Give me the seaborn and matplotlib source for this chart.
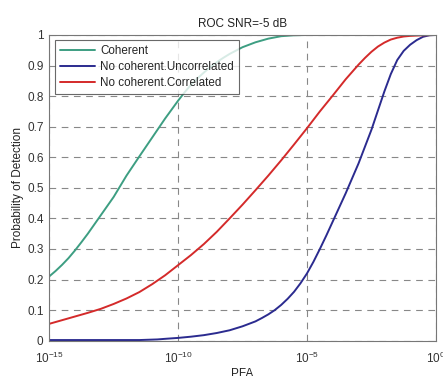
import matplotlib
matplotlib.use("Agg")
import matplotlib.pyplot as plt
import pandas as pd
import seaborn as sns

# PFA exponents (log10) and Pd
coh_exp = [-15, -14.75, -14.5, -14.25, -14, -13.75, -13.5, -13.25, -13, -12.75, -12.5, -12.25,
           -12, -11.5, -11, -10.5, -10, -9.75, -9.5, -9.25, -9, -8.75, -8.5, -8.25, -8, -7.5,
           -7, -6.5, -6, -5.5, -5, -2, 0]
coh_pd = [0.21, 0.228, 0.248, 0.27, 0.295, 0.322, 0.35, 0.38, 0.41, 0.44, 0.47, 0.505,
          0.54, 0.603, 0.665, 0.727, 0.785, 0.812, 0.837, 0.858, 0.877, 0.895, 0.911, 0.925,
          0.938, 0.96, 0.976, 0.988, 0.996, 0.999, 1.0, 1.0, 1.0]

unc_exp = [-15, -13, -11.5, -10.8, -10.5, -10, -9.5, -9, -8.5, -8, -7.5, -7, -6.75, -6.5,
           -6.25, -6, -5.75, -5.5, -5.25, -5, -4.75, -4.5, -4.25, -4, -3.5, -3, -2.5, -2,
           -1.75, -1.5, -1.25, -1, -0.75, -0.5, -0.25, 0]
unc_pd = [0.002, 0.002, 0.002, 0.004, 0.006, 0.009, 0.013, 0.018, 0.025, 0.034, 0.047, 0.063,
          0.074, 0.086, 0.1, 0.117, 0.137, 0.16, 0.188, 0.22, 0.258, 0.3, 0.344, 0.39, 0.482,
          0.58, 0.69, 0.815, 0.872, 0.918, 0.948, 0.968, 0.983, 0.994, 0.999, 1.0]

cor_exp = [-15, -14.5, -14, -13.5, -13, -12.5, -12, -11.5, -11, -10.5, -10, -9.5, -9, -8.5,
           -8, -7.5, -7, -6.5, -6, -5.5, -5, -4.5, -4, -3.5, -3, -2.75, -2.5, -2.25, -2,
           -1.75, -1.5, -1.25, -1, -0.5, 0]
cor_pd = [0.055, 0.067, 0.079, 0.091, 0.104, 0.12, 0.138, 0.159, 0.185, 0.214, 0.247, 0.28,
          0.316, 0.356, 0.40, 0.445, 0.492, 0.54, 0.59, 0.642, 0.695, 0.75, 0.802, 0.855,
          0.903, 0.925, 0.945, 0.962, 0.975, 0.985, 0.991, 0.995, 0.997, 0.999, 1.0]

labels = ["Coherent", "No coherent.Uncorrelated", "No coherent.Correlated"]
colors = ["#3d9e82", "#2b2b8f", "#d42a2a"]

frames = []
for lab, ex, pd_ in zip(labels, [coh_exp, unc_exp, cor_exp], [coh_pd, unc_pd, cor_pd]):
    frames.append(pd.DataFrame({"PFA": [10.0 ** e for e in ex], "Pd": pd_, "curve": lab}))
df = pd.concat(frames, ignore_index=True)

sns.set_style("white")
plt.rcParams["font.family"] = ["Liberation Sans", "DejaVu Sans"]
plt.rcParams["mathtext.default"] = "regular"

fig = plt.figure(figsize=(4.43, 3.76), dpi=100)
ax = fig.add_axes([0.111, 0.094, 0.873, 0.813])

sns.lineplot(data=df, x="PFA", y="Pd", hue="curve", hue_order=labels,
             palette=dict(zip(labels, colors)), linewidth=1.4, ax=ax, sort=True)

ax.set_xscale("log")
ax.set_xlim(1e-15, 1)
ax.set_ylim(0, 1)
ax.set_xticks([1e-15, 1e-10, 1e-5, 1])
ax.set_xticklabels(["$10^{-15}$", "$10^{-10}$", "$10^{-5}$", "$10^{0}$"])
ax.minorticks_off()
ax.set_yticks([i / 10 for i in range(11)])
ax.set_yticklabels(["0", "0.1", "0.2", "0.3", "0.4", "0.5", "0.6", "0.7", "0.8", "0.9", "1"])
ax.tick_params(direction="inout", length=4, labelsize=8.5, colors="#333333", pad=2)
ax.tick_params(axis="x", pad=5)
ax.grid(True, linestyle=(0, (6, 5)), color="#888888", linewidth=0.8)
for s in ax.spines.values():
    s.set_color("#777777")
    s.set_linewidth(0.8)

ax.set_xlabel("PFA", fontsize=8.5, color="#222222", labelpad=2)
ax.set_ylabel("Probability of Detection", fontsize=8.5, color="#222222", labelpad=2)
ax.set_title("ROC SNR=-5 dB", fontsize=8.5, color="#222222", pad=6)

leg = ax.legend(loc="upper left", bbox_to_anchor=(0.015, 0.985), borderaxespad=0,
                fontsize=8.4, frameon=True, fancybox=False, handlelength=3.0,
                labelspacing=0.35, borderpad=0.45, handletextpad=0.45)
leg.get_frame().set_edgecolor("#444444")
leg.get_frame().set_linewidth(0.8)
for line in leg.get_lines():
    line.set_linewidth(1.4)

fig.savefig("out.png", dpi=100)
